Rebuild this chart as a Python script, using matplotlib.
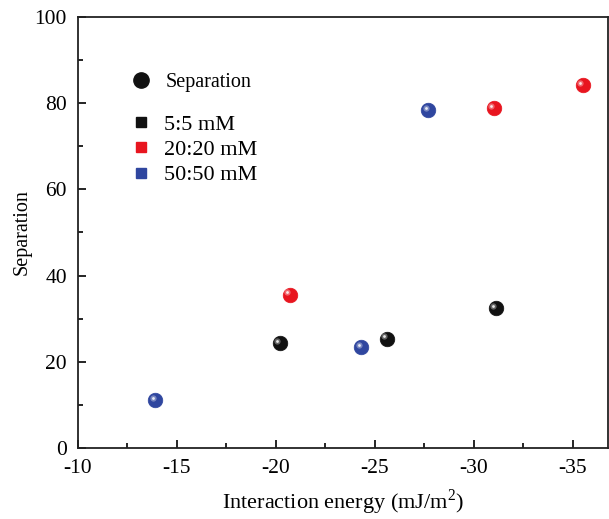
import matplotlib
matplotlib.use('Agg')
import matplotlib.pyplot as plt
from matplotlib.lines import Line2D
from matplotlib.ticker import MultipleLocator
import matplotlib.transforms as mtransforms

plt.rcParams['font.family'] = 'serif'
plt.rcParams['font.serif'] = ['Liberation Serif', 'DejaVu Serif']
plt.rcParams['mathtext.fontset'] = 'custom'
plt.rcParams['mathtext.rm'] = 'Liberation Serif'
plt.rcParams['axes.unicode_minus'] = False

# data
series = ['5:5 mM', '20:20 mM', '50:50 mM']
energy_55 = [-20.2, -25.6, -31.1]
sep_55 = [24.3, 25.4, 32.4]
energy_2020 = [-20.7, -31.0, -35.5]
sep_2020 = [35.5, 78.8, 84.2]
energy_5050 = [-13.9, -24.3, -27.7]
sep_5050 = [11.1, 23.4, 78.4]

colors = ['#111111', '#e8151f', '#2f469f']

fig = plt.figure(figsize=(6.09, 5.19), dpi=100)
ax = fig.add_axes([78/609, 1 - 448/519, 530/609, (448 - 17)/519])

# sphere-looking markers: base ball + small highlight
hl = mtransforms.offset_copy(ax.transData, fig=fig, x=-2.5, y=2.5, units='dots')
for xs, ys, c in zip([energy_55, energy_2020, energy_5050],
                     [sep_55, sep_2020, sep_5050], colors):
    ax.plot(xs, ys, 'o', ms=10.5, color=c, mec=c, mew=0.5, zorder=3)
    ax.plot(xs, ys, 'o', ms=4.5, color='white', mec='none', alpha=0.35,
            transform=hl, zorder=4)
    ax.plot(xs, ys, 'o', ms=2, color='white', mec='none', alpha=0.85,
            transform=hl, zorder=5)

ax.set_xlim(-10, -36.77)
ax.set_ylim(0, 100)
ax.xaxis.set_major_locator(MultipleLocator(5))
ax.xaxis.set_minor_locator(MultipleLocator(2.5))
ax.yaxis.set_major_locator(MultipleLocator(20))
ax.yaxis.set_minor_locator(MultipleLocator(10))
ax.tick_params(which='both', direction='in', width=1.2, labelsize=15.5,
               top=False, right=False)
ax.tick_params(which='major', length=6)
ax.tick_params(which='minor', length=3.5)
ax.tick_params(axis='x', pad=8)
ax.tick_params(axis='y', pad=8)
for s in ax.spines.values():
    s.set_linewidth(1.3)
    s.set_color('#222222')

ax.set_xlabel('Interaction energy (mJ/m$^2$)', fontsize=16, labelpad=7)
ax.set_ylabel('Separation', fontsize=14.5, labelpad=2)

# legends
h1 = [Line2D([], [], ls='none', marker='o', ms=11, color='#111111')]
leg1 = ax.legend(h1, ['Separation'], loc='upper left', bbox_to_anchor=(0.1, 0.87),
                 frameon=False, fontsize=14.5, handlelength=1.0, handletextpad=0.7,
                 borderpad=0, borderaxespad=0)
ax.add_artist(leg1)
h2 = [Line2D([], [], ls='none', marker='s', ms=7, color=c) for c in colors]
ax.legend(h2, series, loc='upper left', bbox_to_anchor=(0.1, 0.775),
          frameon=False, fontsize=16, handlelength=0.9, handletextpad=0.6,
          labelspacing=0.22, borderpad=0, borderaxespad=0)

fig.savefig('out.png', dpi=100)
